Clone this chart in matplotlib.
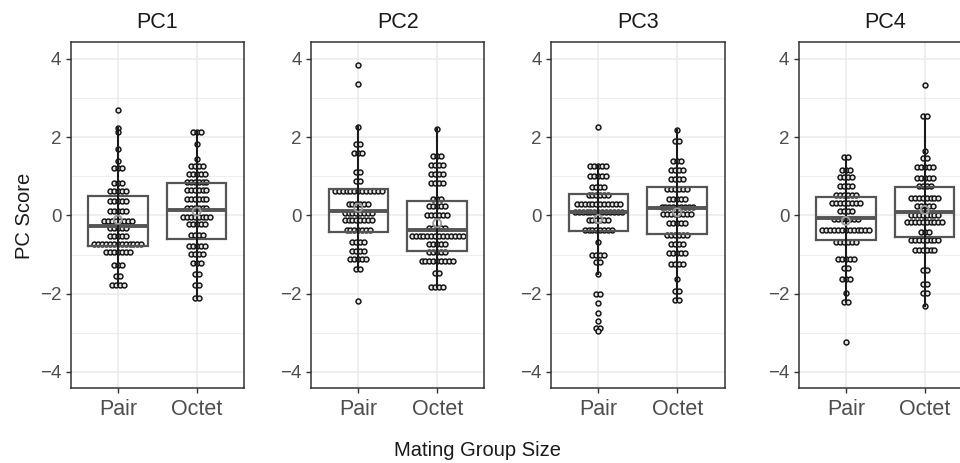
import matplotlib
matplotlib.use("Agg")
import matplotlib.pyplot as plt
import numpy as np

plt.rcParams['font.family'] = ['Liberation Sans', 'DejaVu Sans']

# ---------------- data ----------------
panels = ["PC1", "PC2", "PC3", "PC4"]
groups = ["Pair", "Octet"]

# dot rows: y level of each bin and number of dots in it
pc1_pair_y = [2.70, 2.23, 2.12, 1.69, 1.40, 1.20, 0.83, 0.63, 0.38, 0.11, -0.13, -0.32, -0.52, -0.72, -0.93, -1.26, -1.56, -1.78]
pc1_pair_n = [1, 1, 1, 1, 1, 3, 3, 5, 5, 5, 8, 5, 5, 13, 7, 3, 2, 4]
pc1_octet_y = [2.12, 1.82, 1.45, 1.27, 1.07, 0.85, 0.65, 0.43, 0.20, -0.05, -0.22, -0.51, -0.77, -0.99, -1.22, -1.49, -1.77, -2.12]
pc1_octet_n = [3, 1, 1, 4, 5, 6, 6, 6, 6, 8, 5, 4, 5, 4, 3, 2, 2, 2]

pc2_pair_y = [3.85, 3.35, 2.27, 1.83, 1.60, 1.10, 0.88, 0.62, 0.30, 0.07, -0.11, -0.38, -0.67, -0.92, -1.12, -1.36, -2.18]
pc2_pair_n = [1, 1, 1, 2, 3, 2, 2, 13, 6, 8, 8, 7, 4, 4, 5, 2, 1]
pc2_octet_y = [2.22, 1.53, 1.28, 1.06, 0.84, 0.42, 0.23, 0.02, -0.31, -0.52, -0.74, -0.94, -1.16, -1.48, -1.82]
pc2_octet_n = [1, 3, 4, 4, 4, 3, 5, 6, 5, 14, 5, 5, 9, 2, 4]

pc3_pair_y = [2.25, 1.26, 1.02, 0.72, 0.53, 0.30, 0.08, -0.11, -0.38, -0.67, -1.00, -1.20, -1.49, -2.00, -2.25, -2.50, -2.70, -2.88, -2.96]
pc3_pair_n = [1, 5, 5, 4, 6, 12, 13, 6, 8, 1, 4, 2, 1, 2, 1, 1, 1, 2, 1]
pc3_octet_y = [2.18, 1.90, 1.39, 1.15, 0.92, 0.67, 0.41, 0.22, 0.03, -0.20, -0.49, -0.73, -0.96, -1.25, -1.63, -1.92, -2.15]
pc3_octet_n = [1, 2, 3, 4, 4, 6, 5, 9, 8, 5, 6, 4, 5, 4, 1, 2, 2]

pc4_pair_y = [1.50, 1.17, 0.99, 0.76, 0.52, 0.32, 0.12, -0.10, -0.38, -0.68, -1.11, -1.35, -1.62, -1.98, -2.20, -3.23]
pc4_pair_n = [2, 3, 4, 4, 6, 8, 4, 7, 13, 6, 5, 2, 3, 1, 2, 1]
pc4_octet_y = [3.33, 2.53, 1.64, 1.47, 1.23, 0.95, 0.75, 0.44, 0.25, 0.02, -0.17, -0.43, -0.63, -0.88, -1.39, -1.76, -1.98, -2.31]
pc4_octet_n = [1, 2, 1, 2, 5, 5, 4, 8, 5, 8, 10, 3, 8, 6, 2, 2, 2, 1]

# box statistics per panel: [Pair, Octet]
q1 = {"PC1": [-0.79, -0.60], "PC2": [-0.43, -0.90], "PC3": [-0.39, -0.47], "PC4": [-0.62, -0.55]}
med = {"PC1": [-0.27, 0.13], "PC2": [0.11, -0.37], "PC3": [0.08, 0.19], "PC4": [-0.07, 0.09]}
q3 = {"PC1": [0.485, 0.83], "PC2": [0.67, 0.38], "PC3": [0.54, 0.73], "PC4": [0.47, 0.72]}
wlo = {"PC1": [-1.78, -2.12], "PC2": [-1.36, -1.82], "PC3": [-1.49, -2.15], "PC4": [-2.20, -2.31]}
whi = {"PC1": [2.23, 2.12], "PC2": [2.27, 2.22], "PC3": [1.26, 2.18], "PC4": [1.50, 2.53]}
means = {"PC1": [-0.11, 0.10], "PC2": [0.20, -0.20], "PC3": [-0.09, 0.08], "PC4": [-0.14, 0.14]}

dots = {
    "PC1": [(pc1_pair_y, pc1_pair_n), (pc1_octet_y, pc1_octet_n)],
    "PC2": [(pc2_pair_y, pc2_pair_n), (pc2_octet_y, pc2_octet_n)],
    "PC3": [(pc3_pair_y, pc3_pair_n), (pc3_octet_y, pc3_octet_n)],
    "PC4": [(pc4_pair_y, pc4_pair_n), (pc4_octet_y, pc4_octet_n)],
}

yticks = [-4, -2, 0, 2, 4]
yminor = [-3, -1, 1, 3]

# ---------------- figure ----------------
W, H = 960, 463
fig = plt.figure(figsize=(W / 100, H / 100), dpi=100)

lefts = [70.5, 311, 551, 798.5]
pw = 173.5
top_px, bot_px = 42.5, 388

dark = "#333333"
grid_c = "#ebebeb"
box_c = "#555555"
dx = 0.0497   # horizontal spacing between stacked dots (data units)
boxw = 0.755

for k, pname in enumerate(panels):
    ax = fig.add_axes([lefts[k] / W, (H - bot_px) / H, pw / W, (bot_px - top_px) / H])
    ax.set_xlim(0.4, 2.6)
    ax.set_ylim(-4.41, 4.42)
    for y in yticks:
        ax.axhline(y, color=grid_c, lw=1.1, zorder=0)
    for y in yminor:
        ax.axhline(y, color=grid_c, lw=0.6, zorder=0)
    for x in [1, 2]:
        ax.axvline(x, color=grid_c, lw=1.1, zorder=0)

    for g in range(2):
        xc = g + 1
        ys, ns = dots[pname][g]
        px, py = [], []
        for yv, n in zip(ys, ns):
            for i in range(n):
                px.append(xc + (i - (n - 1) / 2) * dx)
                py.append(yv)
        ax.scatter(px, py, s=12.5, facecolor="#e6e6e6", edgecolor="#111111",
                   linewidth=1.05, zorder=3)
        # box
        b1, m, b3 = q1[pname][g], med[pname][g], q3[pname][g]
        ax.plot([xc - boxw / 2, xc + boxw / 2, xc + boxw / 2, xc - boxw / 2, xc - boxw / 2],
                [b1, b1, b3, b3, b1], color=box_c, lw=1.6, zorder=4, solid_joinstyle="miter")
        ax.plot([xc - boxw / 2, xc + boxw / 2], [m, m], color=box_c, lw=2.8, zorder=4,
                solid_capstyle="butt")
        ax.plot([xc, xc], [wlo[pname][g], whi[pname][g]], color="#1a1a1a", lw=1.5, zorder=4)
        ax.scatter([xc], [means[pname][g]], s=34, facecolor="none", edgecolor="#9a9a9a",
                   linewidth=1.3, zorder=5)

    ax.set_xticks([1, 2])
    ax.set_xticklabels(groups)
    ax.set_yticks(yticks)
    ax.set_yticklabels([str(t).replace("-", "\u2212") for t in yticks])
    ax.tick_params(axis="both", direction="out", length=3.6, width=1.0, color=dark)
    ax.tick_params(axis="x", labelsize=15.5, labelcolor="#4d4d4d", pad=4)
    ax.tick_params(axis="y", labelsize=13.5, labelcolor="#4d4d4d", pad=3)
    for s in ax.spines.values():
        s.set_color(dark)
        s.set_linewidth(1.1)
        s.set_zorder(6)
    fig.text((lefts[k] + pw / 2) / W, 1 - 23 / H, pname, ha="center", va="center",
             fontsize=15.5, color="#1a1a1a")

fig.text(24 / W, 1 - 216 / H, "PC Score", rotation=90, ha="center", va="center",
         fontsize=14.5, color="#1a1a1a")
fig.text(477 / W, 1 - 450 / H, "Mating Group Size", ha="center", va="center",
         fontsize=14.5, color="#1a1a1a")

fig.savefig("out.png", dpi=100)
